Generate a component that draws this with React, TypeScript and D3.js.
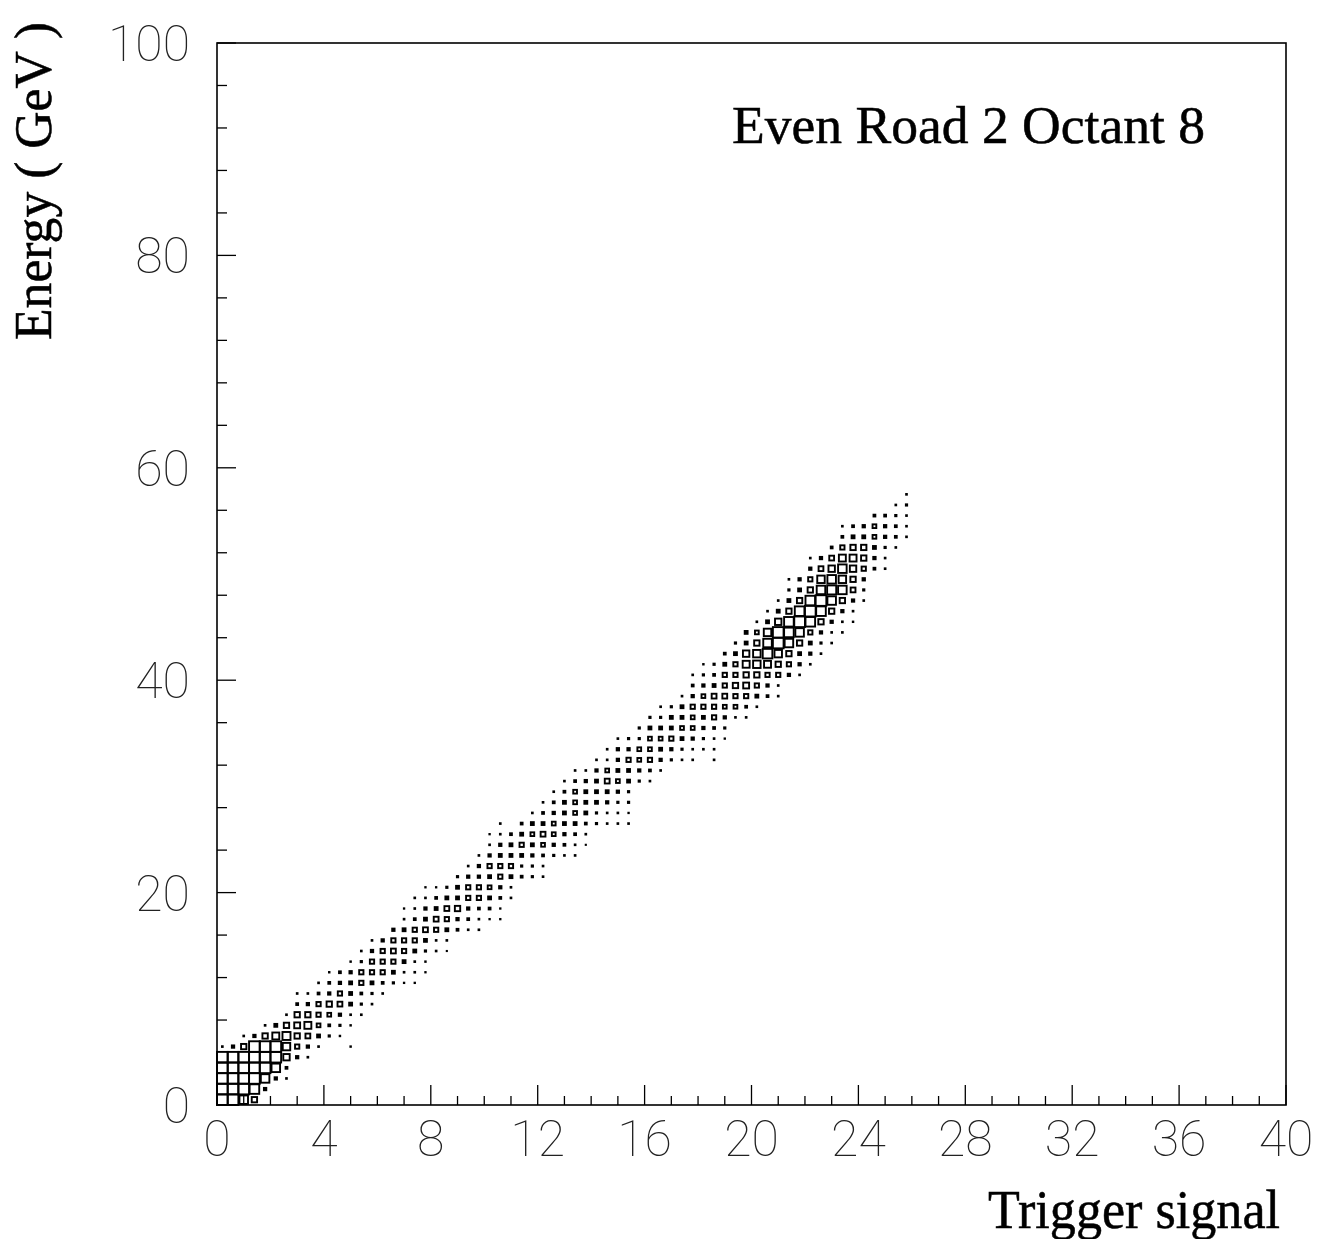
import React from 'react';
import * as d3 from 'd3';

// ---- chart text ----
const plotTitle = 'Even Road 2 Octant 8';
const xTitle = 'Trigger signal';
const yTitle = 'Energy ( GeV )';

// ---- axes ----
const xDomain = [0, 40];
const yDomain = [0, 100];
const xMajorTicks = [0, 4, 8, 12, 16, 20, 24, 28, 32, 36, 40];
const xMinorTicks = [1, 2, 3, 5, 6, 7, 9, 10, 11, 13, 14, 15, 17, 18, 19, 21, 22, 23, 25, 26, 27, 29, 30, 31, 33, 34, 35, 37, 38, 39];
const yMajorTicks = [0, 20, 40, 60, 80, 100];
const yMinorTicks = [4, 8, 12, 16, 24, 28, 32, 36, 44, 48, 52, 56, 64, 68, 72, 76, 84, 88, 92, 96];

// ---- histogram binning: 100 x-bins of 0.4, 100 y-bins of 1 GeV ----
const xBinWidth = 0.4;
const yBinWidth = 1;

// For each energy bin (row 0 = 0-1 GeV, ...): index of first trigger bin drawn
const rowFirstBin = [
  0, 0, 0, 0, 0, 0, 2, 4, 6, 7,
  7, 9, 10, 12, 13, 14, 16, 17, 17, 18,
  19, 22, 23, 24, 25, 25, 26, 29, 30, 31,
  32, 33, 35, 36, 37, 39, 40, 41, 43, 44,
  44, 45, 47, 48, 49, 50, 51, 52, 53, 53,
  55, 55, 57, 58, 58, 61, 63, 64,
];

// Box sizes (10 = box filling the whole bin)
const rowBoxSizes = [
  [10, 10, 8, 5],
  [10, 10, 10, 9, 2.5],
  [10, 10, 10, 10, 8, 2.5, 1],
  [10, 10, 10, 10, 10, 8, 2],
  [10, 10, 10, 10, 10, 10, 6, 2.5, 1],
  [1, 2.5, 5, 10, 10, 10, 7, 4, 2.5, 1, 0, 0, 0.8],
  [1, 2.5, 5, 6.5, 7.5, 5, 4.5, 3, 1.5, 0.8],
  [1, 3, 5, 5.5, 6.5, 3.5, 2, 1.5, 0.8],
  [1, 5, 5, 4, 3.5, 2.5, 1, 1],
  [2, 2.5, 4, 5, 4.5, 3, 1.5, 1],
  [1, 1, 2, 2.5, 4, 3, 2, 1.5, 1],
  [1, 2, 2.5, 3, 4, 3, 2, 1.5, 0.7, 0.7],
  [0.8, 2, 2.5, 4, 4, 4, 3, 1, 1, 0.7],
  [0.8, 1.5, 4, 4, 4, 3, 1, 0.8],
  [1, 2.5, 4, 4.5, 4, 3, 1.5, 1, 0.5],
  [1, 2.5, 4, 4, 4, 3, 1, 1],
  [2.5, 3, 4, 4.5, 4, 3, 2, 1, 1],
  [1, 2, 3, 4.5, 4, 2.5, 2, 1, 0.7, 0.7],
  [0.7, 1, 2.5, 3, 4.5, 5, 2.5, 2, 2, 0.7],
  [1, 1, 2, 3, 3, 4, 4, 3, 2, 1],
  [0.7, 0.7, 1.5, 3, 4, 4, 3.5, 2.5, 1],
  [1.5, 2.5, 2.5, 3, 4, 3, 2, 1.5, 1],
  [1, 2.5, 4, 4, 4, 1.5, 1.5, 1],
  [1, 2.5, 3, 3, 3, 2.5, 2, 1.5, 1, 1],
  [1, 2.5, 3, 4, 3, 3.5, 2.5, 2, 1, 0.5],
  [0.7, 1, 2, 3, 3.5, 4.5, 3.5, 2.5, 2, 1],
  [1, 0, 2, 3, 3, 3.5, 3, 3, 2, 1.5, 1, 1, 1],
  [1, 2, 2.5, 3, 3.5, 3, 1.5, 1, 1, 0.7],
  [1, 2, 3, 3.5, 3, 3, 2.5, 1.5, 1.5],
  [1, 2, 3.5, 3, 3, 3, 2.5, 1.5],
  [1, 2, 2.5, 3, 4.5, 3.5, 3, 1.5, 1],
  [1, 1, 2.5, 3.5, 3, 3, 2.5, 2, 1],
  [1, 1, 2.5, 4, 3.5, 4, 2.5, 1.5, 1, 1, 0, 1],
  [1, 2.5, 2.5, 3.5, 3.5, 3, 2.5, 1.5, 1, 1, 1],
  [1, 1.5, 1.5, 3.5, 3.5, 4, 3, 2.5, 1.5, 1, 0.7],
  [1.5, 3, 3, 3, 3.5, 3.5, 2.5, 2, 1.5],
  [1.5, 1.5, 3, 3, 3.5, 3, 4, 2.5, 1, 1],
  [1, 1.5, 3, 4, 4, 4, 3.5, 3.5, 2, 1],
  [1, 2.5, 3.5, 4.5, 4.5, 4, 4, 3, 2, 1],
  [2, 2.5, 3, 4, 5, 5.5, 4, 2.5, 1],
  [1, 1.5, 2, 4, 4, 5, 5, 4, 4, 2.5, 1],
  [0.8, 1.5, 3, 4, 6.5, 7, 6.5, 5, 4, 2.5, 1],
  [2, 3, 6, 7, 9, 7, 5, 3, 2.5, 1],
  [1.5, 3, 5, 8, 10, 8, 5, 3, 1.5, 1],
  [3, 3.5, 7, 10, 9, 8, 4, 2.5, 1, 1],
  [1, 3, 6, 9, 10, 9, 5, 2.5, 1, 0.8],
  [1, 3, 5, 9, 10, 9, 5, 2.5, 1],
  [1, 3, 5, 9, 10, 8, 5, 2.5, 1],
  [1.5, 3, 5, 8, 8.5, 8, 4.5, 1.5],
  [1, 2.5, 4, 7, 8, 7, 5, 2.5],
  [2.5, 4.5, 6, 8, 6, 4, 2, 1],
  [1, 2.5, 4.5, 6.5, 6.5, 5, 2.5, 1],
  [2, 4, 5, 5, 3, 1.5, 1],
  [2, 3, 3, 3.5, 2.5, 2, 1],
  [1, 2, 2.5, 3.5, 2.5, 2, 1],
  [2, 2, 1.5, 1],
  [1, 1.5],
  [1],
];

const W = 1326;
const H = 1239;
const tickFont = "Roboto, 'DejaVu Sans', sans-serif";
const serif = "'Liberation Serif', 'Times New Roman', serif";

export default function App() {
  const x = d3.scaleLinear().domain(xDomain).range([217, 1286]);
  const y = d3.scaleLinear().domain(yDomain).range([1105, 43]);

  const cells = rowBoxSizes.flatMap((row, j) =>
    row.map((s, k) => ({ i: rowFirstBin[j] + k, j, s }))
  ).filter((c) => c.s > 0);

  const [xl, xr] = x.range();
  const [yb, yt] = y.range();

  return (
    <svg
      width={W}
      height={H}
      style={{ position: 'absolute', left: 0, top: 0, background: '#fff' }}
    >
      <rect x={0} y={0} width={W} height={H} fill="#fff" />
      {/* frame */}
      <rect x={xl} y={yt} width={xr - xl} height={yb - yt} fill="none" stroke="#000" strokeWidth={1.6} />

      {/* boxes */}
      <g>
        {cells.map((c, n) => {
          const x0 = x(c.i * xBinWidth);
          const x1 = x((c.i + 1) * xBinWidth);
          const y0 = y(c.j * yBinWidth);
          const y1 = y((c.j + 1) * yBinWidth);
          const cx = (x0 + x1) / 2;
          const cy = (y0 + y1) / 2;
          const w = ((x1 - x0) * c.s) / 10;
          const h = ((y0 - y1) * c.s) / 10;
          const small = w < 3.6;
          return (
            <rect
              key={n}
              x={cx - w / 2}
              y={cy - h / 2}
              width={w}
              height={h}
              fill={small ? '#000' : 'none'}
              stroke="#000"
              strokeWidth={small ? 1.6 : 1.9}
            />
          );
        })}
      </g>

      {/* x ticks */}
      <g stroke="#000" strokeWidth={1.3}>
        {xMajorTicks.map((t) => (
          <line key={'xM' + t} x1={x(t)} x2={x(t)} y1={yb} y2={yb - 20} />
        ))}
        {xMinorTicks.map((t) => (
          <line key={'xm' + t} x1={x(t)} x2={x(t)} y1={yb} y2={yb - 9} />
        ))}
        {yMajorTicks.map((t) => (
          <line key={'yM' + t} x1={xl} x2={xl + 19} y1={y(t)} y2={y(t)} />
        ))}
        {yMinorTicks.map((t) => (
          <line key={'ym' + t} x1={xl} x2={xl + 10} y1={y(t)} y2={y(t)} />
        ))}
      </g>

      {/* tick labels */}
      <g fontFamily={tickFont} fontWeight={100} fontSize={50} fill="#222">
        {xMajorTicks.map((t) => (
          <text key={'xl' + t} x={x(t)} y={1156} textAnchor="middle">
            {t}
          </text>
        ))}
        {yMajorTicks.map((t) => (
          <text key={'yl' + t} x={190} y={y(t) + 18} textAnchor="end">
            {t}
          </text>
        ))}
      </g>

      {/* titles */}
      <g fill="#000" stroke="#000" strokeWidth={0.5}>
        <text x={732} y={143} fontFamily={serif} fontSize={53} textLength={473} lengthAdjust="spacingAndGlyphs">
          {plotTitle}
        </text>
        <text x={1280} y={1228} fontFamily={serif} fontSize={54} textAnchor="end" textLength={292} lengthAdjust="spacingAndGlyphs">
          {xTitle}
        </text>
        <text
          transform="translate(51,181) rotate(-90)"
          fontFamily={serif}
          fontSize={53}
          textAnchor="middle"
          textLength={318}
          lengthAdjust="spacingAndGlyphs"
        >
          {yTitle}
        </text>
      </g>
    </svg>
  );
}
